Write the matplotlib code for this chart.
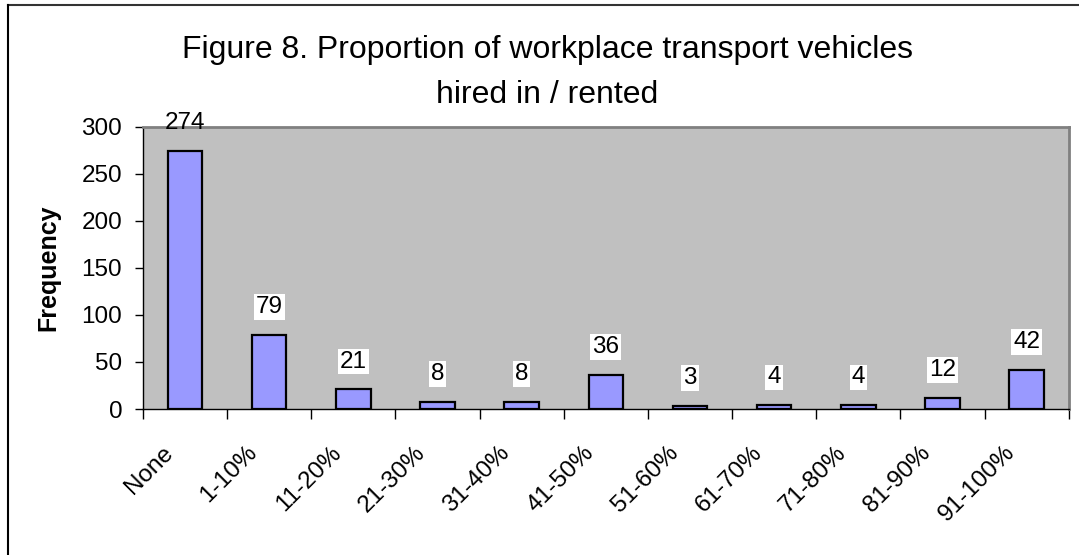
import matplotlib
matplotlib.use("Agg")
import matplotlib.pyplot as plt
from matplotlib.lines import Line2D

plt.rcParams['font.family'] = ['Liberation Sans', 'DejaVu Sans']

# data
categories = ["None", "1-10%", "11-20%", "21-30%", "31-40%", "41-50%",
              "51-60%", "61-70%", "71-80%", "81-90%", "91-100%"]
frequency = [274, 79, 21, 8, 8, 36, 3, 4, 4, 12, 42]
y_ticks = [0, 50, 100, 150, 200, 250, 300]

title = "Figure 8. Proportion of workplace transport vehicles\nhired in / rented"
y_label = "Frequency"

fig = plt.figure(figsize=(10.79, 5.55), dpi=100)
ax = fig.add_axes([0.1325, 0.263, 0.858, 0.5085])

x = list(range(len(categories)))
ax.bar(x, frequency, width=0.41, color="#9999FF", edgecolor="black",
       linewidth=1.6, zorder=3)

ax.set_xlim(-0.5, len(categories) - 0.5)
ax.set_ylim(0, 300)
ax.set_facecolor("#C0C0C0")

# excel style axes: black left/bottom, grey frame on the other sides
for side in ["top", "right"]:
    ax.spines[side].set_color("#808080")
    ax.spines[side].set_linewidth(2)
for side in ["left", "bottom"]:
    ax.spines[side].set_color("black")
    ax.spines[side].set_linewidth(1)

ax.set_yticks(y_ticks)
ax.tick_params(axis="y", direction="out", length=6, width=1, labelsize=17.5, pad=9)

# x ticks between categories, labels at category centres
ax.set_xticks([i - 0.5 for i in range(len(categories) + 1)])
ax.set_xticklabels([])
ax.tick_params(axis="x", direction="out", length=7, width=1)
for i, name in enumerate(categories):
    ax.annotate(name, xy=(i, 0), xycoords=("data", "axes fraction"),
                xytext=(-11, -29), textcoords="offset points",
                rotation=45, rotation_mode="anchor", ha="right", va="center",
                fontsize=17.5, annotation_clip=False)

ax.set_ylabel(y_label, fontsize=18, fontweight="bold", labelpad=15)

# value labels above bars
for i, v in enumerate(frequency):
    box = dict(boxstyle="square,pad=0.08", facecolor="white", edgecolor="none")
    if v + 30 > 300:
        box = None
    ax.annotate(str(v), xy=(i, v), xytext=(0, 20), textcoords="offset points",
                ha="center", va="center", fontsize=17.5, bbox=box,
                annotation_clip=False, zorder=5)

fig.text(0.507, 0.869, title, ha="center", va="center", fontsize=23,
         linespacing=1.65)

# chart border (top and left only visible)
fig.add_artist(Line2D([8 / 1079, 1.0], [1 - 5 / 555, 1 - 5 / 555],
                      transform=fig.transFigure, color="#333333", linewidth=1.5))
fig.add_artist(Line2D([8 / 1079, 8 / 1079], [0.0, 1 - 5 / 555],
                      transform=fig.transFigure, color="black", linewidth=1.5))

fig.savefig("out.png", dpi=100)
